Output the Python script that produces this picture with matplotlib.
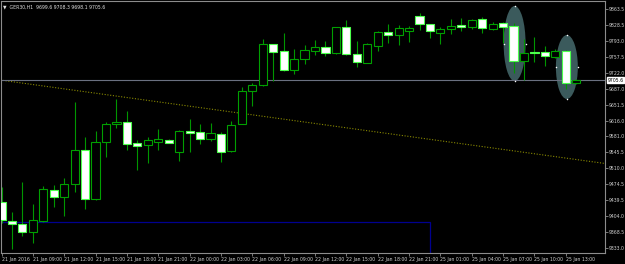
import matplotlib
matplotlib.use("Agg")
import matplotlib.pyplot as plt
from matplotlib.patches import Ellipse, Rectangle

# GER30 H1 candles
opens = [9435.8, 9392.9, 9385.6, 9368.5, 9393.6, 9461.7, 9446.9, 9475.1, 9550.5, 9441.8,
         9568.3, 9607.6, 9612.7, 9565.4, 9561.0, 9569.0, 9572.7, 9545.4, 9592.7, 9589.8,
         9574.3, 9585.4, 9547.6, 9608.2, 9680.8, 9695.5, 9785.1, 9770.3, 9728.8, 9752.5,
         9771.0, 9778.5, 9765.2, 9823.6, 9763.0, 9744.3, 9782.0, 9812.5, 9806.5, 9815.3,
         9848.6, 9829.6, 9810.9, 9819.1, 9828.0, 9824.2, 9841.3, 9819.8, 9833.1, 9825.1,
         9748.8, 9767.0, 9767.4, 9756.3, 9771.0, 9699.6]
highs = [9468.4, 9412.9, 9479.5, 9430.7, 9470.6, 9472.2, 9488.4, 9657.1, 9580.1, 9592.7,
         9613.3, 9663.7, 9637.1, 9572.7, 9578.7, 9596.5, 9575.0, 9594.0, 9619.3, 9608.2,
         9610.5, 9589.8, 9614.2, 9691.0, 9698.6, 9796.3, 9786.0, 9810.2, 9774.0, 9782.9,
         9794.7, 9793.1, 9824.2, 9839.1, 9793.1, 9787.4, 9814.7, 9830.2, 9828.0, 9825.8,
         9854.0, 9830.5, 9824.2, 9841.3, 9842.9, 9841.3, 9846.4, 9834.0, 9834.0, 9831.8,
         9796.3, 9801.4, 9781.4, 9775.4, 9772.0, 9708.3]
lows = [9388.5, 9330.8, 9359.6, 9344.1, 9390.7, 9424.0, 9404.7, 9457.3, 9420.2, 9440.0,
        9535.7, 9600.0, 9550.5, 9506.1, 9521.0, 9550.5, 9565.0, 9526.8, 9546.8, 9563.8,
        9571.2, 9523.9, 9546.1, 9607.5, 9648.2, 9693.0, 9703.7, 9727.0, 9719.9, 9742.1,
        9761.4, 9759.2, 9764.0, 9762.5, 9735.4, 9743.5, 9771.0, 9788.7, 9784.3, 9790.9,
        9816.9, 9798.5, 9786.5, 9808.0, 9815.3, 9819.1, 9810.9, 9816.9, 9788.0, 9722.1,
        9705.9, 9746.5, 9736.3, 9755.5, 9685.3, 9698.1]
closes = [9395.2, 9385.6, 9367.8, 9395.2, 9464.0, 9446.2, 9474.4, 9550.5, 9441.8, 9568.3,
          9608.2, 9612.7, 9563.8, 9560.1, 9572.7, 9574.3, 9566.7, 9592.7, 9587.6, 9574.3,
          9587.6, 9545.4, 9605.4, 9680.8, 9694.1, 9785.8, 9768.7, 9728.8, 9752.5, 9771.8,
          9778.5, 9765.8, 9822.9, 9763.0, 9745.9, 9785.1, 9811.8, 9806.5, 9820.7, 9820.7,
          9830.2, 9814.0, 9818.5, 9826.4, 9824.2, 9838.4, 9822.0, 9830.2, 9824.2, 9748.8,
          9765.8, 9765.8, 9758.5, 9769.6, 9699.9, 9705.6]

price_ticks = [9863.5, 9828.5, 9793.0, 9757.5, 9722.0, 9687.0, 9651.5, 9616.0,
               9581.0, 9545.5, 9510.0, 9474.5, 9439.5, 9404.0, 9368.5, 9333.0]
time_ticks = list(range(0, 55, 3))
time_labels = ["21 Jan 2016", "21 Jan 09:00", "21 Jan 12:00", "21 Jan 15:00", "21 Jan 18:00",
               "21 Jan 21:00", "22 Jan 00:00", "22 Jan 03:00", "22 Jan 06:00", "22 Jan 09:00",
               "22 Jan 12:00", "22 Jan 15:00", "22 Jan 18:00", "22 Jan 21:00", "25 Jan 01:00",
               "25 Jan 04:00", "25 Jan 07:00", "25 Jan 10:00", "25 Jan 13:00"]

last_price = 9705.6
trend_x = [-0.14, 57.75]
trend_y = [9705.9, 9520.6]
box_right = 41.0
box_top = 9390.0
ellipses = [(49.1, 9786.9, 2.1, 166.5), (54.1, 9734.8, 2.1, 142.0)]

fig = plt.figure(figsize=(6.25, 2.64), dpi=100, facecolor="black")
ax = fig.add_axes([1 / 625, 11 / 264, 604 / 625, 252 / 264])
ax.set_facecolor("black")
ax.set_xlim(-0.05, 57.75)
ax.set_ylim(9321.9, 9881.3)

# objects drawn in the background
for cx, cy, w, h in ellipses:
    ax.add_patch(Ellipse((cx, cy), w, h, facecolor="#3b5a5c", edgecolor="none", zorder=1))
    ax.scatter([cx, cx, cx - w / 2, cx + w / 2], [cy + h / 2, cy - h / 2, cy, cy],
               s=1.2, color="white", zorder=1.5, linewidths=0)
ax.add_patch(Rectangle((-5, 9250), box_right + 5, box_top - 9250, fill=False,
                       edgecolor="#000090", linewidth=0.9, zorder=1.2))
ax.plot(trend_x, trend_y, color="#8a8a00", linestyle=(0, (1, 1.5)), linewidth=0.8, zorder=1.3)
ax.axhline(last_price, color="#6a7080", linewidth=0.8, zorder=1.4)

# candles
for i, (o, h, l, c) in enumerate(zip(opens, highs, lows, closes)):
    ax.vlines(i, l, h, color="#009600", linewidth=0.8, zorder=2)
    bottom = min(o, c)
    height = max(abs(c - o), 0.8)
    if c >= o:
        ax.bar(i, height, 0.78, bottom=bottom, facecolor="black",
               edgecolor="#00a000", linewidth=0.8, zorder=3)
    else:
        ax.bar(i, height, 0.78, bottom=bottom, facecolor="white",
               edgecolor="#4cff4c", linewidth=0.8, zorder=3)

for s in ax.spines.values():
    s.set_color("#8c8c8c")
    s.set_linewidth(0.8)

ax.yaxis.tick_right()
ax.set_yticks(price_ticks)
ax.set_yticklabels([f"{p:.1f}" for p in price_ticks])
ax.set_xticks(time_ticks)
ax.set_xticklabels(time_labels, ha="left")
ax.tick_params(axis="both", colors="#8c8c8c", labelcolor="#d0d0d0", labelsize=3.3,
               length=2, width=0.6, pad=1)

ax.text(1.004, last_price, f"{last_price:.1f}", transform=ax.get_yaxis_transform(),
        fontsize=3.3, color="black", va="center", ha="left",
        bbox=dict(facecolor="white", edgecolor="white", pad=0.6))

ax.text(0.004, 0.985, "\u25bc  GER30,H1  9699.6 9708.3 9698.1 9705.6", transform=ax.transAxes,
        fontsize=3.3, color="#e0e0e0", va="top", ha="left")

fig.savefig("out.png", dpi=100, facecolor="black")
